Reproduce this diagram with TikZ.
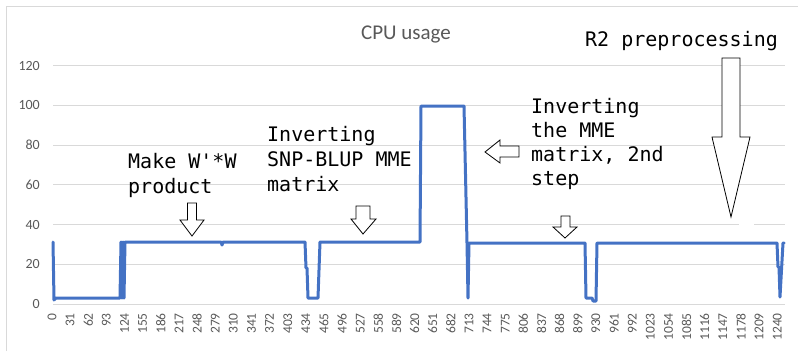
\documentclass[tikz,border=0pt]{standalone}
\usepackage{fontspec}
\setmainfont{Carlito}
\newfontfamily\monofont{DejaVu Sans Mono}
\definecolor{gridgray}{HTML}{D9D9D9}
\definecolor{framegray}{HTML}{D9D9D9}
\definecolor{labelgray}{HTML}{595959}
\definecolor{seriesblue}{HTML}{4472C4}
\tikzset{
  grid line/.style={draw=gridgray, line width=0.9pt},
  frame line/.style={draw=framegray, line width=1pt},
  ylab/.style={anchor=east, inner sep=0pt, text=labelgray, font=\fontsize{14}{14}\selectfont},
  xlab/.style={anchor=east, rotate=90, inner sep=0pt, text=labelgray, font=\fontsize{13.5}{13.5}\selectfont},
  charttitle/.style={inner sep=0pt, text=labelgray, font=\fontsize{21}{21}\selectfont},
  note/.style={anchor=base west, inner sep=0pt, text=black, font=\monofont\fontsize{20}{20}\selectfont},
  blockarrow/.style={draw=black, fill=white, line width=0.8pt, line join=miter},
  series/.style={draw=seriesblue, line width=3pt, line join=round, line cap=round}
}
\begin{document}
\begin{tikzpicture}[x=1pt,y=-1pt]
\useasboundingbox (0,0) rectangle (798,351);
% outer frame (left and top edges visible)
\draw[frame line] (6,351) -- (6,6) -- (798,6);
% gridlines
\foreach \v in {20,60,80,100,120}{
  \draw[grid line] (53,{304-\v*1.985}) -- (785,{304-\v*1.985});
}
\draw[grid line] (53,{304-40*1.985}) -- (739,{304-40*1.985});
\draw[grid line] (754,{304-40*1.985}) -- (785,{304-40*1.985});
\draw[grid line] (53,304) -- (785,304);
% y labels
\foreach \v in {0,20,...,120}{
  \node[ylab] (yl\v) at (40,{304-\v*1.985}) {\v};
}
% x labels
\foreach \k in {0,...,40}{
  \pgfmathtruncatemacro{\lab}{\k*31}
  \node[xlab] (xl\k) at ({52+\k*18.13},313) {\lab};
}
% title
\node[charttitle] (title) at (406,34) {CPU usage};
% data series
\draw[series] (53,242) -- (54,300) -- (56,298) -- (120,298) -- (121,242) -- (122,298) -- (123,242) -- (124,298) -- (125,242)
  -- (221,242) -- (222,245) -- (223,242) -- (305,242) -- (306,268) -- (307,268) -- (308,298) -- (318,298) -- (320,242)
  -- (420,242) -- (421,106) -- (464,106) -- (467,243) -- (468,298) -- (469,243) -- (585,243) -- (586,298) -- (592,298)
  -- (593,301) -- (596,301) -- (597,243) -- (777,243) -- (778,267) -- (779,267) -- (780,297) -- (783,243) -- (784,243);
% annotations
\node[note] (m1) at (128,168) {Make W'*W};
\node[note] (m2) at (128,193) {product};
\node[note] (s1) at (267,141) {Inverting};
\node[note] (s2) at (267,166) {SNP-BLUP MME};
\node[note] (s3) at (267,191) {matrix};
\node[note] (i1) at (531,113) {Inverting};
\node[note] (i2) at (531,137) {the MME};
\node[note] (i3) at (531,161) {matrix, 2nd};
\node[note] (i4) at (531,185) {step};
\node[note] (r1) at (585,46) {R2 preprocessing};
% block arrows
\draw[blockarrow] (187.5,203) -- (196.5,203) -- (196.5,220) -- (204,220) -- (192,236) -- (180,220) -- (187.5,220) -- cycle;
\draw[blockarrow] (356,206) -- (370,206) -- (370,219) -- (376,219) -- (363,234) -- (351,219) -- (356,219) -- cycle;
\draw[blockarrow] (519,146) -- (519,157) -- (500,157) -- (500,163) -- (485,152) -- (500,140) -- (500,146) -- cycle;
\draw[blockarrow] (561,216) -- (570,216) -- (570,227) -- (577,227) -- (565,238) -- (553,227) -- (561,227) -- cycle;
\draw[blockarrow] (722,58) -- (740,58) -- (740,137) -- (750,137) -- (731,217) -- (712,137) -- (722,137) -- cycle;
\end{tikzpicture}
\end{document}
